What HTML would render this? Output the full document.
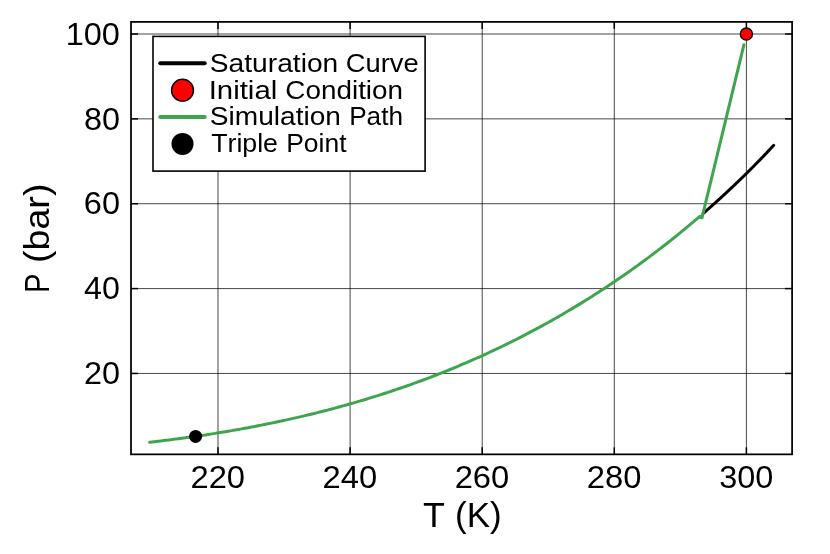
<!DOCTYPE html>
<html><head><meta charset="utf-8"><title>CO2 phase path</title>
<style>html,body{margin:0;padding:0;background:#fff;}body{width:830px;height:554px;overflow:hidden;font-family:"Liberation Sans",sans-serif;}svg{display:block;will-change:transform;-webkit-font-smoothing:antialiased;}text{font-family:"Liberation Sans",sans-serif;fill:#000;font-kerning:none;white-space:pre;}</style></head><body>
<svg width="830" height="554" viewBox="0 0 830 554">
<rect x="0" y="0" width="830" height="554" fill="#ffffff"/>
<g stroke="#000" stroke-opacity="0.72" stroke-width="1.0" fill="none">
<line x1="218.00" y1="21.9" x2="218.00" y2="454.35"/>
<line x1="350.10" y1="21.9" x2="350.10" y2="454.35"/>
<line x1="482.20" y1="21.9" x2="482.20" y2="454.35"/>
<line x1="614.30" y1="21.9" x2="614.30" y2="454.35"/>
<line x1="746.40" y1="21.9" x2="746.40" y2="454.35"/>
<line x1="131.0" y1="373.45" x2="792.1" y2="373.45"/>
<line x1="131.0" y1="288.59" x2="792.1" y2="288.59"/>
<line x1="131.0" y1="203.72" x2="792.1" y2="203.72"/>
<line x1="131.0" y1="118.86" x2="792.1" y2="118.86"/>
<line x1="131.0" y1="34.00" x2="792.1" y2="34.00"/>
</g>
<path d="M703.14,213.50 L703.49,213.19 L703.84,212.88 L704.20,212.58 L704.55,212.27 L704.90,211.96 L705.25,211.65 L705.61,211.35 L705.96,211.04 L706.31,210.73 L706.66,210.42 L707.02,210.11 L707.37,209.80 L707.72,209.49 L708.07,209.18 L708.43,208.87 L708.78,208.56 L709.13,208.25 L709.48,207.93 L709.84,207.62 L710.19,207.31 L710.54,207.00 L710.89,206.68 L711.25,206.37 L711.60,206.06 L711.95,205.74 L712.31,205.43 L712.66,205.12 L713.01,204.80 L713.36,204.49 L713.72,204.17 L714.07,203.85 L714.42,203.54 L714.77,203.22 L715.13,202.90 L715.48,202.59 L715.83,202.27 L716.18,201.95 L716.54,201.63 L716.89,201.32 L717.24,201.00 L717.59,200.68 L717.95,200.36 L718.30,200.04 L718.65,199.72 L719.00,199.40 L719.36,199.08 L719.71,198.76 L720.06,198.44 L720.42,198.11 L720.77,197.79 L721.12,197.47 L721.47,197.15 L721.83,196.82 L722.18,196.50 L722.53,196.18 L722.88,195.85 L723.24,195.53 L723.59,195.20 L723.94,194.88 L724.29,194.55 L724.65,194.23 L725.00,193.90 L725.35,193.58 L725.70,193.25 L726.06,192.92 L726.41,192.60 L726.76,192.27 L727.12,191.94 L727.47,191.61 L727.82,191.28 L728.17,190.95 L728.53,190.62 L728.88,190.29 L729.23,189.96 L729.58,189.63 L729.94,189.30 L730.29,188.97 L730.64,188.64 L730.99,188.31 L731.35,187.98 L731.70,187.65 L732.05,187.31 L732.40,186.98 L732.76,186.65 L733.11,186.31 L733.46,185.98 L733.81,185.64 L734.17,185.31 L734.52,184.97 L734.87,184.64 L735.23,184.30 L735.58,183.97 L735.93,183.63 L736.28,183.29 L736.64,182.95 L736.99,182.62 L737.34,182.28 L737.69,181.94 L738.05,181.60 L738.40,181.26 L738.75,180.92 L739.10,180.58 L739.46,180.24 L739.81,179.90 L740.16,179.56 L740.51,179.22 L740.87,178.88 L741.22,178.54 L741.57,178.19 L741.92,177.85 L742.28,177.51 L742.63,177.16 L742.98,176.82 L743.34,176.48 L743.69,176.13 L744.04,175.79 L744.39,175.44 L744.75,175.10 L745.10,174.75 L745.45,174.40 L745.80,174.06 L746.16,173.71 L746.51,173.36 L746.86,173.01 L747.21,172.66 L747.57,172.32 L747.92,171.97 L748.27,171.62 L748.62,171.27 L748.98,170.92 L749.33,170.57 L749.68,170.21 L750.03,169.86 L750.39,169.51 L750.74,169.16 L751.09,168.81 L751.45,168.45 L751.80,168.10 L752.15,167.74 L752.50,167.39 L752.86,167.04 L753.21,166.68 L753.56,166.33 L753.91,165.97 L754.27,165.61 L754.62,165.26 L754.97,164.90 L755.32,164.54 L755.68,164.18 L756.03,163.82 L756.38,163.47 L756.73,163.11 L757.09,162.75 L757.44,162.39 L757.79,162.03 L758.15,161.66 L758.50,161.30 L758.85,160.94 L759.20,160.58 L759.56,160.22 L759.91,159.85 L760.26,159.49 L760.61,159.13 L760.97,158.76 L761.32,158.40 L761.67,158.03 L762.02,157.66 L762.38,157.30 L762.73,156.93 L763.08,156.56 L763.43,156.20 L763.79,155.83 L764.14,155.46 L764.49,155.09 L764.84,154.72 L765.20,154.35 L765.55,153.98 L765.90,153.61 L766.26,153.24 L766.61,152.86 L766.96,152.49 L767.31,152.12 L767.67,151.74 L768.02,151.37 L768.37,150.99 L768.72,150.62 L769.08,150.24 L769.43,149.87 L769.78,149.49 L770.13,149.11 L770.49,148.73 L770.84,148.35 L771.19,147.97 L771.54,147.59 L771.90,147.21 L772.25,146.83 L772.60,146.45 L772.95,146.06 L773.31,145.68 L773.66,145.29" fill="none" stroke="#000" stroke-width="3" stroke-linecap="round" stroke-linejoin="round"/>
<path d="M743.90,44.80 L701.80,218.60 L700.50,215.78 L697.19,218.62 L693.89,221.43 L690.59,224.21 L687.29,226.96 L683.98,229.69 L680.68,232.40 L677.38,235.08 L674.08,237.74 L670.77,240.37 L667.47,242.97 L664.17,245.56 L660.87,248.11 L657.56,250.65 L654.26,253.16 L650.96,255.65 L647.66,258.12 L644.35,260.56 L641.05,262.98 L637.75,265.38 L634.45,267.75 L631.14,270.10 L627.84,272.44 L624.54,274.74 L621.24,277.03 L617.93,279.30 L614.63,281.54 L611.33,283.77 L608.03,285.97 L604.72,288.15 L601.42,290.32 L598.12,292.46 L594.82,294.58 L591.51,296.68 L588.21,298.76 L584.91,300.82 L581.61,302.86 L578.30,304.88 L575.00,306.88 L571.70,308.86 L568.40,310.83 L565.09,312.77 L561.79,314.70 L558.49,316.60 L555.19,318.49 L551.88,320.36 L548.58,322.21 L545.28,324.04 L541.98,325.86 L538.67,327.65 L535.37,329.43 L532.07,331.19 L528.77,332.93 L525.46,334.66 L522.16,336.36 L518.86,338.05 L515.56,339.73 L512.25,341.38 L508.95,343.02 L505.65,344.64 L502.35,346.25 L499.04,347.84 L495.74,349.41 L492.44,350.96 L489.14,352.50 L485.83,354.03 L482.53,355.53 L479.23,357.02 L475.93,358.50 L472.62,359.96 L469.32,361.40 L466.02,362.83 L462.72,364.24 L459.41,365.64 L456.11,367.02 L452.81,368.39 L449.51,369.74 L446.20,371.07 L442.90,372.40 L439.60,373.70 L436.30,375.00 L432.99,376.27 L429.69,377.54 L426.39,378.79 L423.09,380.02 L419.78,381.24 L416.48,382.45 L413.18,383.64 L409.88,384.82 L406.57,385.99 L403.27,387.14 L399.97,388.28 L396.67,389.40 L393.36,390.51 L390.06,391.61 L386.76,392.70 L383.46,393.77 L380.15,394.83 L376.85,395.88 L373.55,396.91 L370.25,397.93 L366.94,398.94 L363.64,399.94 L360.34,400.92 L357.04,401.89 L353.73,402.85 L350.43,403.80 L347.13,404.73 L343.83,405.66 L340.52,406.57 L337.22,407.47 L333.92,408.36 L330.62,409.23 L327.31,410.10 L324.01,410.95 L320.71,411.80 L317.41,412.63 L314.10,413.45 L310.80,414.26 L307.50,415.06 L304.20,415.84 L300.89,416.62 L297.59,417.39 L294.29,418.14 L290.99,418.89 L287.68,419.63 L284.38,420.35 L281.08,421.07 L277.78,421.77 L274.47,422.47 L271.17,423.15 L267.87,423.83 L264.57,424.49 L261.26,425.15 L257.96,425.79 L254.66,426.43 L251.36,427.06 L248.05,427.68 L244.75,428.28 L241.45,428.88 L238.15,429.47 L234.84,430.06 L231.54,430.63 L228.24,431.19 L224.94,431.75 L221.63,432.30 L218.33,432.84 L215.03,433.37 L211.73,433.89 L208.42,434.40 L205.12,434.91 L201.82,435.40 L198.52,435.89 L195.21,436.37 L191.91,436.85 L188.61,437.31 L185.31,437.77 L182.00,438.22 L178.70,438.66 L175.40,439.10 L172.10,439.53 L168.79,439.95 L165.49,440.36 L162.19,440.77 L158.89,441.16 L155.58,441.56 L152.28,441.94 L149.64,442.25" fill="none" stroke="#3ea44e" stroke-width="3" stroke-linecap="round" stroke-linejoin="bevel"/>
<circle cx="746.40" cy="34.10" r="6.1" fill="#ff0000" stroke="#000" stroke-width="1.3"/>
<circle cx="195.58" cy="436.43" r="6.5" fill="#000"/>
<rect x="131.0" y="21.9" width="661.10" height="432.45" fill="none" stroke="#000" stroke-width="1.75"/>
<g stroke="#000" stroke-width="1.5" fill="none" stroke-linecap="butt">
<line x1="218.00" y1="454.35" x2="218.00" y2="447.35"/>
<line x1="218.00" y1="21.9" x2="218.00" y2="28.9"/>
<line x1="350.10" y1="454.35" x2="350.10" y2="447.35"/>
<line x1="350.10" y1="21.9" x2="350.10" y2="28.9"/>
<line x1="482.20" y1="454.35" x2="482.20" y2="447.35"/>
<line x1="482.20" y1="21.9" x2="482.20" y2="28.9"/>
<line x1="614.30" y1="454.35" x2="614.30" y2="447.35"/>
<line x1="614.30" y1="21.9" x2="614.30" y2="28.9"/>
<line x1="746.40" y1="454.35" x2="746.40" y2="447.35"/>
<line x1="746.40" y1="21.9" x2="746.40" y2="28.9"/>
<line x1="131.0" y1="373.45" x2="138.0" y2="373.45"/>
<line x1="792.1" y1="373.45" x2="785.1" y2="373.45"/>
<line x1="131.0" y1="288.59" x2="138.0" y2="288.59"/>
<line x1="792.1" y1="288.59" x2="785.1" y2="288.59"/>
<line x1="131.0" y1="203.72" x2="138.0" y2="203.72"/>
<line x1="792.1" y1="203.72" x2="785.1" y2="203.72"/>
<line x1="131.0" y1="118.86" x2="138.0" y2="118.86"/>
<line x1="792.1" y1="118.86" x2="785.1" y2="118.86"/>
<line x1="131.0" y1="34.00" x2="138.0" y2="34.00"/>
<line x1="792.1" y1="34.00" x2="785.1" y2="34.00"/>
</g>
<g id="ticklabels">
<text x="190.45" y="487.50" font-size="30.6" textLength="54.63" lengthAdjust="spacingAndGlyphs">220</text>
<text x="322.55" y="487.50" font-size="30.6" textLength="54.63" lengthAdjust="spacingAndGlyphs">240</text>
<text x="454.65" y="487.50" font-size="30.6" textLength="54.63" lengthAdjust="spacingAndGlyphs">260</text>
<text x="586.75" y="487.50" font-size="30.6" textLength="54.63" lengthAdjust="spacingAndGlyphs">280</text>
<text x="719.31" y="487.50" font-size="30.6" textLength="54.12" lengthAdjust="spacingAndGlyphs">300</text>
<text x="83.92" y="384.20" font-size="30.6" textLength="36.05" lengthAdjust="spacingAndGlyphs">20</text>
<text x="84.10" y="299.34" font-size="30.6" textLength="35.86" lengthAdjust="spacingAndGlyphs">40</text>
<text x="83.80" y="214.47" font-size="30.6" textLength="36.17" lengthAdjust="spacingAndGlyphs">60</text>
<text x="83.99" y="129.61" font-size="30.6" textLength="35.98" lengthAdjust="spacingAndGlyphs">80</text>
<text x="65.68" y="44.75" font-size="30.6" textLength="54.29" lengthAdjust="spacingAndGlyphs">100</text>
</g>
<g id="guides">
<text x="423.09" y="527.00" font-size="34.8" textLength="21.93" lengthAdjust="spacingAndGlyphs">T</text>
<text x="455.13" y="527.00" font-size="34.8" textLength="46.64" lengthAdjust="spacingAndGlyphs">(K)</text>
<g transform="translate(49.4,290.5) rotate(-90)">
<text x="-2.39" y="0.00" font-size="34.8" textLength="19.43" lengthAdjust="spacingAndGlyphs">P</text>
<text x="27.59" y="0.00" font-size="34.8" textLength="79.31" lengthAdjust="spacingAndGlyphs">(bar)</text>
</g>
</g>
<rect x="153" y="36.4" width="272.1" height="134.7" fill="#fff" stroke="#000" stroke-width="1.6"/>
<line x1="160.3" y1="63.15" x2="204.7" y2="63.15" stroke="#000" stroke-width="4" stroke-linecap="round"/>
<circle cx="182.5" cy="90.15" r="10.95" fill="#ff0000" stroke="#000" stroke-width="1.4"/>
<line x1="160.3" y1="116.9" x2="204.7" y2="116.9" stroke="#3ea44e" stroke-width="4" stroke-linecap="round"/>
<circle cx="182.5" cy="143.9" r="11.0" fill="#000"/>
<g id="legendtext">
<text x="209.82" y="71.70" font-size="26.0" textLength="128.41" lengthAdjust="spacingAndGlyphs">Saturation</text>
<text x="345.81" y="71.70" font-size="26.0" textLength="72.90" lengthAdjust="spacingAndGlyphs">Curve</text>
<text x="208.69" y="98.50" font-size="26.0" textLength="68.58" lengthAdjust="spacingAndGlyphs">Initial</text>
<text x="285.39" y="98.50" font-size="26.0" textLength="117.67" lengthAdjust="spacingAndGlyphs">Condition</text>
<text x="209.82" y="125.30" font-size="26.0" textLength="131.10" lengthAdjust="spacingAndGlyphs">Simulation</text>
<text x="349.15" y="125.30" font-size="26.0" textLength="53.85" lengthAdjust="spacingAndGlyphs">Path</text>
<text x="211.20" y="152.10" font-size="26.0" textLength="66.79" lengthAdjust="spacingAndGlyphs">Triple</text>
<text x="286.23" y="152.10" font-size="26.0" textLength="60.26" lengthAdjust="spacingAndGlyphs">Point</text>
</g>
</svg></body></html>
